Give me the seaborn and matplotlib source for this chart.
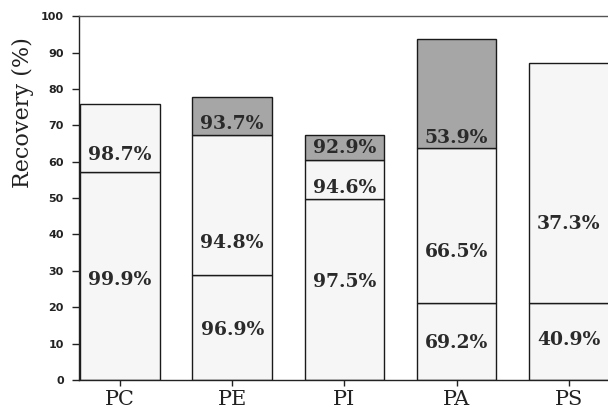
import matplotlib
matplotlib.use("Agg")
import matplotlib.pyplot as plt
import seaborn as sns
import pandas as pd
import numpy as np

# ---- data ----
categories = ["PC", "PE", "PI", "PA", "PS"]
layer1 = [57.2, 28.8, 49.8, 21.1, 21.1]   # bottom segment heights
layer2 = [18.8, 38.5, 10.6, 42.7, 65.9]   # middle segment heights
layer3 = [0.0, 10.5, 6.9, 29.8, 0.0]      # top (shaded) segment heights
labels1 = ["99.9%", "96.9%", "97.5%", "69.2%", "40.9%"]
labels2 = ["98.7%", "94.8%", "94.6%", "66.5%", "37.3%"]
labels3 = ["", "93.7%", "92.9%", "53.9%", ""]
y_ticks = [0, 10, 20, 30, 40, 50, 60, 70, 80, 90, 100]

# ---- layout (label position as fraction within segment) ----
frac1 = [0.48, 0.48, 0.54, 0.48, 0.52]
frac2 = [0.25, 0.23, 0.28, 0.33, 0.33]
frac3 = [0.5, 0.30, 0.48, 0.09, 0.5]

sns.set_theme(style="white")
plt.rcParams["font.family"] = ["DejaVu Serif"]

fig = plt.figure(figsize=(6.08, 4.12), dpi=100)
ax = fig.add_axes([0.130, 0.0777, 0.873, 0.883])

df = pd.DataFrame({"cat": categories, "l1": layer1, "l2": layer2, "l3": layer3})
b2 = np.array(layer1)
b3 = b2 + np.array(layer2)

light = "#f6f6f6"
dark = "#a6a6a6"
common = dict(width=0.71, edgecolor="#1a1a1a", linewidth=1.0, ax=ax, order=categories)
sns.barplot(data=df, x="cat", y="l1", color=light, saturation=1, **common)
sns.barplot(data=df, x="cat", y="l2", bottom=b2, color=light, saturation=1, **common)
sns.barplot(data=df, x="cat", y="l3", bottom=b3, color=dark, saturation=1, **common)

for p in ax.patches:
    if p.get_height() == 0:
        p.set_visible(False)

txt = dict(ha="center", va="center", fontsize=13.5, fontweight="bold", color="#2a2a2a")
for i in range(len(categories)):
    ax.text(i, layer1[i] * frac1[i], labels1[i], **txt)
    ax.text(i, b2[i] + layer2[i] * frac2[i], labels2[i], **txt)
    if layer3[i] > 0:
        ax.text(i, b3[i] + layer3[i] * frac3[i], labels3[i], **txt)

ax.set_xlim(-0.365, 4.365)
ax.set_ylim(0, 100)
ax.set_yticks(y_ticks)
ax.set_yticklabels([str(t) for t in y_ticks], fontfamily="DejaVu Sans",
                   fontweight="bold", fontsize=8)
ax.set_xlabel("")
ax.set_ylabel("Recovery (%)", fontsize=16, color="#222222")
ax.yaxis.set_label_coords(-0.084, 0.736)
ax.tick_params(axis="y", which="both", left=True, length=5, width=1, color="#222222", pad=6)
ax.tick_params(axis="x", bottom=True, length=4, width=1, color="#222222", labelsize=15, pad=3)
for lab in ax.get_xticklabels():
    lab.set_color("#222222")
for lab in ax.get_yticklabels():
    lab.set_color("#222222")

for s in ["left", "bottom", "top"]:
    ax.spines[s].set_visible(True)
    ax.spines[s].set_color("#222222")
    ax.spines[s].set_linewidth(1.0)
ax.spines["top"].set_color("#555555")
ax.spines["right"].set_visible(False)
ax.grid(False)

fig.savefig("out.png", dpi=100)
